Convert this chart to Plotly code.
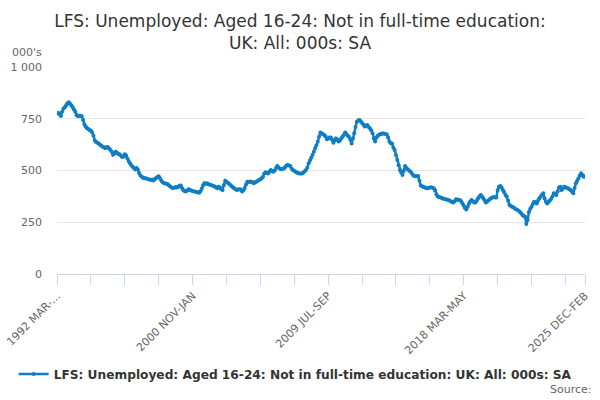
import plotly.graph_objects as go

MONTHS = ["JAN", "FEB", "MAR", "APR", "MAY", "JUN", "JUL", "AUG", "SEP", "OCT", "NOV", "DEC"]

# Rolling three-month periods: 1992 MAR-MAY ... 2025 DEC-FEB
periods = []
y, m = 1992, 2
while True:
    periods.append(f"{y} {MONTHS[m]}-{MONTHS[(m + 2) % 12]}")
    if y == 2025 and m == 11:
        break
    m += 1
    if m == 12:
        m = 0
        y += 1

# Unemployed aged 16-24 not in full-time education, thousands
values_1992_1999 = [
    775, 778, 772, 763, 785, 800, 805, 815, 825, 830, 822, 815, 806, 795, 784, 768,
    762, 765, 765, 762, 744, 722, 712, 704, 700, 696, 692, 684, 668, 645, 638, 634,
    630, 625, 620, 615, 612, 608, 612, 614, 606, 599, 590, 576, 582, 590, 586, 580,
    578, 572, 565, 568, 578, 572, 558, 545, 535, 525, 518, 512, 505, 512, 505, 488,
    476, 470, 465, 462, 463, 460, 458, 456, 454, 456, 452, 458, 464, 468, 472, 462,
    450, 443, 440, 437, 436, 434, 428, 422, 418, 416, 417, 420, 418, 422, 426, 428,
]
values_2000_2007 = [
    414, 405, 400, 398, 404, 410, 406, 403, 401, 398, 398, 396, 395, 393, 400, 412,
    428, 438, 436, 438, 434, 432, 430, 428, 425, 423, 418, 414, 422, 418, 410, 406,
    430, 451, 446, 441, 436, 430, 424, 418, 414, 410, 406, 408, 410, 408, 398, 404,
    415, 432, 446, 445, 447, 446, 442, 438, 444, 446, 450, 454, 458, 462, 470, 486,
    492, 488, 486, 495, 502, 498, 494, 500, 512, 522, 515, 508, 506, 508, 510, 516,
    524, 527, 524, 522, 508, 502, 498, 494, 490, 487, 486, 485, 486, 490, 496, 502,
]
values_2008_2015 = [
    515, 535, 548, 562, 575, 591, 607, 622, 639, 663, 683, 680, 675, 672, 664, 651,
    655, 660, 660, 648, 634, 645, 655, 648, 640, 645, 655, 663, 672, 683, 676, 668,
    663, 648, 631, 655, 680, 710, 736, 742, 744, 738, 730, 722, 712, 716, 720, 710,
    704, 695, 680, 655, 640, 660, 668, 672, 676, 676, 680, 678, 676, 674, 660, 640,
    632, 630, 610, 599, 575, 551, 525, 502, 490, 478, 498, 522, 512, 506, 500, 495,
    488, 478, 474, 472, 472, 473, 450, 428, 424, 420, 419, 416, 414, 416, 418, 419,
]
values_2016_2026 = [
    417, 414, 405, 385, 374, 372, 369, 368, 365, 362, 361, 360, 357, 355, 352, 348,
    345, 352, 361, 360, 358, 358, 352, 341, 330, 318, 312, 325, 341, 350, 358, 352,
    345, 345, 355, 366, 374, 382, 375, 366, 355, 345, 350, 356, 361, 366, 370, 372,
    370, 370, 405, 422, 425, 418, 406, 395, 382, 374, 355, 333, 330, 325, 322, 318,
    313, 310, 305, 301, 293, 285, 280, 277, 241, 261, 300, 315, 325, 338, 349, 345,
    341, 355, 366, 375, 383, 390, 365, 349, 341, 348, 355, 362, 375, 390, 386, 382,
    400, 418, 422, 406, 412, 422, 420, 416, 414, 410, 406, 398, 390, 415, 438, 450,
    462, 476, 486, 478, 470, 472,
]
values = values_1992_1999 + values_2000_2007 + values_2008_2015 + values_2016_2026

series_name = "LFS: Unemployed: Aged 16-24: Not in full-time education: UK: All: 000s: SA"

# Axis ticks: every 26 periods, labelled every 104, plus the final period
tick_idx = list(range(0, len(periods), 26)) + [len(periods) - 1]
tick_vals = [periods[i] for i in tick_idx]
tick_text = [
    ("1992 MAR-..." if i == 0 else periods[i]) if (i % 104 == 0 or i == len(periods) - 1) else ""
    for i in tick_idx
]
y_tick_vals = [0, 250, 500, 750, 1000]
y_tick_text = ["0", "250", "500", "750", "1 000"]

FONT = "DejaVu Sans"
BLUE = "#0f7ec4"

fig = go.Figure()
fig.add_trace(go.Scatter(
    x=periods, y=values, mode="lines+markers", name=series_name,
    line=dict(color=BLUE, width=2.5),
    marker=dict(color=BLUE, size=4),
))

fig.update_layout(
    width=600, height=400,
    margin=dict(l=57, r=15, t=67, b=126),
    paper_bgcolor="white", plot_bgcolor="white",
    font=dict(family=FONT, color="#666666", size=11),
    title=dict(
        text="LFS: Unemployed: Aged 16-24: Not in full-time education:<br>UK: All: 000s: SA",
        x=0.5, xanchor="center", y=0.932, yanchor="middle",
        font=dict(family=FONT, size=17, color="#333333"),
    ),
    showlegend=True,
    legend=dict(
        orientation="h", x=0.451, xanchor="center", y=-0.483, yanchor="middle",
        font=dict(family=FONT, size=12.2, color="#333333", weight="bold"),
        itemwidth=30,
    ),
    xaxis=dict(
        type="category", range=[0, len(periods) - 1], automargin=False,
        tickmode="array", tickvals=tick_vals, ticktext=tick_text,
        tickangle=-45, ticks="outside", ticklen=10, tickcolor="#ccd6eb",
        showline=True, linecolor="#ccd6eb", linewidth=1,
        showgrid=False, zeroline=False,
        tickfont=dict(family=FONT, size=11, color="#666666"),
    ),
    yaxis=dict(
        range=[0, 1000], tickmode="array", tickvals=y_tick_vals, ticktext=y_tick_text,
        automargin=False,
        showgrid=True, gridcolor="#e6e6e6", gridwidth=1, zeroline=False,
        showline=False, ticks="", ticklabelstandoff=14,
        tickfont=dict(family=FONT, size=11, color="#666666"),
    ),
    annotations=[
        dict(text="000's", xref="paper", yref="paper", x=-0.089, y=1.072,
             xanchor="left", yanchor="middle", showarrow=False,
             font=dict(family=FONT, size=11, color="#666666")),
        dict(text="Source:", xref="paper", yref="paper", x=1, y=-0.56,
             xanchor="right", yanchor="middle", showarrow=False, xshift=9,
             font=dict(family=FONT, size=11, color="#666666")),
    ],
)

fig.write_html(
    "out.html",
    config={"displayModeBar": False},
    post_script="document.body.style.margin='0';",
)
